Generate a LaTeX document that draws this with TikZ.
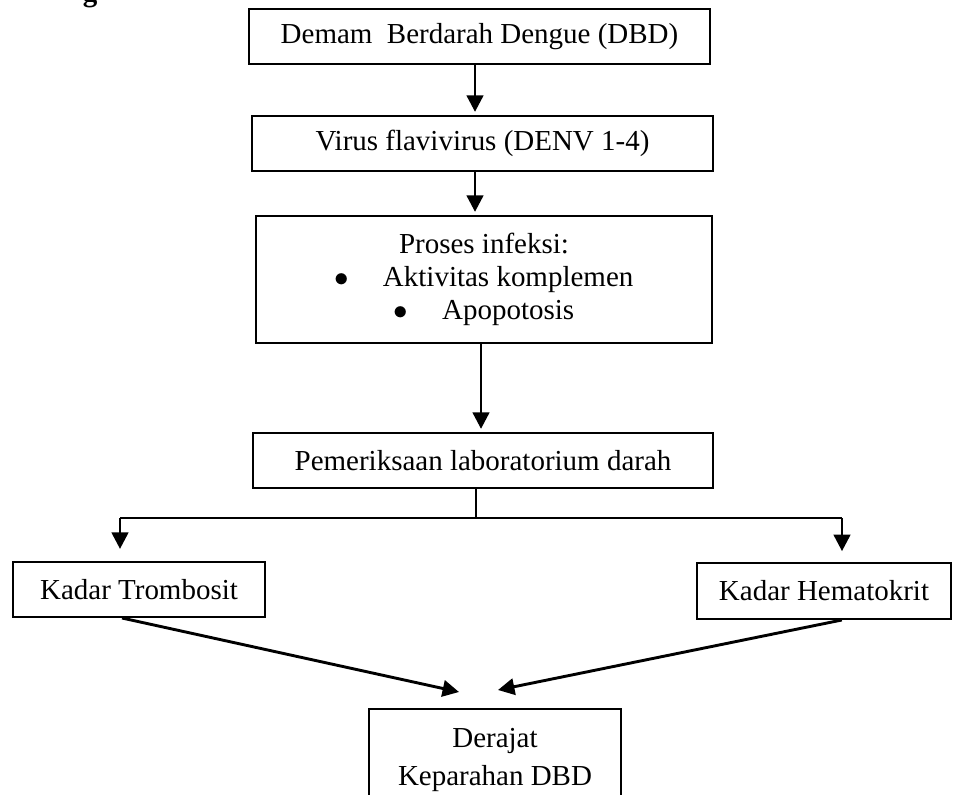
\documentclass[tikz,border=0pt]{standalone}
\usepackage{fontspec}
\setmainfont{Liberation Serif}
\usetikzlibrary{arrows.meta}
\begin{document}
\begin{tikzpicture}[x=0.414pt,y=-0.414pt,
  kotak/.style={draw,line width=0.8pt,inner sep=2pt,minimum height=22.8pt,
    font=\fontsize{12}{13.7}\selectfont},
  panah/.style={line width=1.2pt,-{Triangle[length=6.8pt,width=6.8pt]}},
  garis/.style={line width=1.2pt}]
  \useasboundingbox (0,0) rectangle (954,795);
  % judul yang terpotong
  \node[anchor=base,inner sep=0pt,font=\fontsize{12}{14}\selectfont\bfseries] (judul) at (90,2) {g};
  % kolom utama
  \node[kotak,minimum width=190.9pt] (demam) at (479.5,36.5) {Demam\ \ Berdarah Dengue (DBD)};
  \node[kotak,minimum width=190.9pt] (virus) at (482.5,143.5) {Virus flavivirus (DENV 1-4)};
  \node[kotak,minimum width=188.8pt,minimum height=52.6pt,align=center] (infeksi) at (484,279.5)
    {Proses infeksi:\\ $\bullet$\hspace{14pt}Aktivitas komplemen\\ $\bullet$\hspace{14pt}Apopotosis};
  \node[kotak,minimum width=190.4pt] (periksa) at (483,460.5) {Pemeriksaan laboratorium darah};
  \node[kotak,minimum width=104.3pt] (trombosit) at (139,589.5) {Kadar Trombosit};
  \node[kotak,minimum width=105.2pt,minimum height=23.2pt] (hematokrit) at (824,591) {Kadar Hematokrit};
  \node[kotak,minimum width=104.3pt,minimum height=42.2pt,align=center] (derajat) at (495,760)
    {Derajat\\[2pt] Keparahan DBD};
  \coordinate (kolom) at (475,0);
  \coordinate (kolom2) at (481,0);
  \coordinate (cabang) at (476,518);
  \coordinate (kiri) at (120,518);
  \coordinate (kanan) at (842,518);
  \coordinate (ujungkiri) at (459,692);
  \coordinate (ujungkanan) at (498,690);
  % panah ke bawah
  \draw[panah,shorten >=1.3pt] (demam.south -| kolom) -- (virus.north -| kolom);
  \draw[panah,shorten >=1.3pt] (virus.south -| kolom) -- (infeksi.north -| kolom);
  \draw[panah,shorten >=1.3pt] (infeksi.south -| kolom2) -- (periksa.north -| kolom2);
  % percabangan
  \draw[line width=0.45pt] (periksa.south -| cabang) -- (cabang);
  \draw[garis] (kiri) -- (kanan);
  \draw[panah,shorten >=5pt] (kiri) -- (kiri |- trombosit.north);
  \draw[panah,shorten >=4.5pt] (kanan) -- (kanan |- hematokrit.north);
  % menuju derajat
  \draw[panah] ([xshift=45.5pt]trombosit.south west) -- (ujungkiri);
  \draw[panah] ([xshift=60.4pt]hematokrit.south west) -- (ujungkanan);
\end{tikzpicture}
\end{document}
